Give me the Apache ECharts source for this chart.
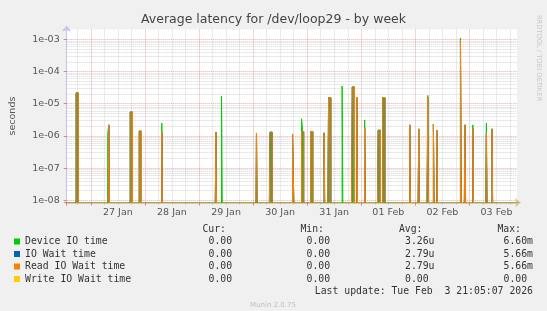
<!DOCTYPE html>
<html><head><meta charset="utf-8">
<script src="https://cdn.jsdelivr.net/npm/echarts@6/dist/echarts.min.js"></script>
<style>html,body{margin:0;padding:0;background:#f0f0f0}#c{width:547px;height:311px}</style>
</head><body><div id="c"></div>
<script>
// ---------- data ----------
const titleText = 'Average latency for /dev/loop29 - by week';
const seriesNames = ['Device IO time', 'IO Wait time', 'Read IO Wait time', 'Write IO Wait time'];
const seriesColors = ['#00cc00', '#0066b3', '#ff8000', '#ffcc00'];
// 30-minute slots counted from 27 Jan 00:00 that carry a non-zero value
const spikeSlots = [-13, -12, 15, 16, 35, 36, 43, 44, 63, 111, 116, 147, 159, 160, 179, 180, 187, 188, 195, 196, 207, 211, 212, 223, 232, 233, 236, 243, 255, 256, 259, 260, 283, 291, 299, 304, 307, 328, 332, 339, 351, 356];
const deviceIO = [2.15e-5, 2.15e-5, 1.2e-6, 2.2e-6, 5.5e-6, 5.5e-6, 1.4e-6, 1.4e-6, 2.5e-6, 1.3e-6, 1.7e-5, 1.23e-6, 1.3e-6, 1.3e-6, 1.15e-6, 1.5e-8, 3.4e-6, 1.35e-6, 1.37e-6, 1.37e-6, 1.24e-6, 1.55e-5, 1.55e-5, 3.55e-5, 3.3e-5, 3.3e-5, 1.6e-5, 3.1e-6, 1.5e-6, 1.5e-6, 1.55e-5, 1.55e-5, 2.2e-6, 1.65e-6, 1.8e-5, 2.3e-6, 1.5e-6, 1.1e-3, 2.2e-6, 2.2e-6, 2.5e-6, 1.65e-6];
const ioWait = [2.15e-5, 2.15e-5, 0, 2.2e-6, 5.5e-6, 5.5e-6, 1.4e-6, 1.4e-6, 1.3e-6, 1.3e-6, 0, 1.23e-6, 1.3e-6, 1.3e-6, 1.15e-6, 1.5e-8, 1.35e-6, 1.35e-6, 1.37e-6, 1.37e-6, 1.24e-6, 1.55e-5, 1.55e-5, 0, 3.3e-5, 3.3e-5, 1.6e-5, 1.8e-6, 1.5e-6, 1.5e-6, 1.55e-5, 1.55e-5, 2.2e-6, 1.65e-6, 1.58e-5, 2.3e-6, 1.5e-6, 9.5e-4, 2.2e-6, 1.65e-6, 1.2e-6, 1.65e-6];
const readIO = [2.15e-5, 2.15e-5, 0, 2.2e-6, 5.5e-6, 5.5e-6, 1.4e-6, 1.4e-6, 1.3e-6, 1.3e-6, 0, 1.23e-6, 1.3e-6, 1.3e-6, 1.15e-6, 1.5e-8, 1.35e-6, 1.35e-6, 1.37e-6, 1.37e-6, 1.24e-6, 1.55e-5, 1.55e-5, 0, 3.3e-5, 3.3e-5, 1.6e-5, 1.8e-6, 1.5e-6, 1.5e-6, 1.55e-5, 1.55e-5, 2.2e-6, 1.65e-6, 1.58e-5, 2.3e-6, 1.5e-6, 9.5e-4, 2.2e-6, 1.65e-6, 1.2e-6, 1.65e-6];
const writeIO = [0, 0, 0, 0, 0, 0, 0, 0, 0, 0, 0, 0, 0, 0, 0, 0, 0, 0, 0, 0, 0, 0, 0, 0, 0, 0, 0, 0, 0, 0, 0, 0, 0, 0, 0, 0, 0, 0, 0, 0, 0, 0];
const dayLabels = ['27 Jan', '28 Jan', '29 Jan', '30 Jan', '31 Jan', '01 Feb', '02 Feb', '03 Feb'];
const yTickLabels = ['1e-08', '1e-07', '1e-06', '1e-05', '1e-04', '1e-03'];
const statHeaders = ['Cur:', 'Min:', 'Avg:', 'Max:'];
const statCur = ['0.00 ', '0.00 ', '0.00 ', '0.00 '];
const statMin = ['0.00 ', '0.00 ', '0.00 ', '0.00 '];
const statAvg = ['3.26u', '2.79u', '2.79u', '0.00 '];
const statMax = ['6.60m', '5.66m', '5.66m', '0.00 '];
const lastUpdate = 'Last update: Tue Feb  3 21:05:07 2026';
const footer = 'Munin 2.0.75';
const watermark = 'RRDTOOL / TOBI OETIKER';

// ---------- layout ----------
const X_MIN = -0.4455, X_MAX = 7.8785;   // days from 27 Jan 00:00
const Y_MIN = 8.54e-9, Y_MAX = 2e-3;
const SLOTS_PER_DAY = 48;
const FLOOR = 1e-10; // zero on a log axis -> below the plot, clipped
const SLOT_FIRST = Math.floor(X_MIN * SLOTS_PER_DAY) - 1;
const SLOT_LAST = Math.ceil(X_MAX * SLOTS_PER_DAY) + 1;

function buildSeriesData(values) {
  const out = [];
  for (let s = SLOT_FIRST; s <= SLOT_LAST; s++) {
    const i = spikeSlots.indexOf(s);
    const v = i >= 0 ? values[i] : 0;
    out.push([s / SLOTS_PER_DAY, v > 0 ? v : FLOOR]);
  }
  return out;
}

// grid lines, placed through the axis scales
const majorLines = [], minorLines = [];
for (let k = -9; k <= -3; k++) {
  for (let m = 1; m <= 9; m++) {
    const v = m * Math.pow(10, k);
    if (v > Y_MIN && v < Y_MAX) (m === 1 ? majorLines : minorLines).push({ coords: [[X_MIN, v], [X_MAX, v]] });
  }
}
for (let q = Math.ceil(X_MIN * 4); q <= Math.floor(X_MAX * 4); q++) {
  (q % 4 === 0 ? majorLines : minorLines).push({ coords: [[q / 4, Y_MIN], [q / 4, Y_MAX]] });
}
function gridSeries(data, color) {
  return { type: 'lines', coordinateSystem: 'cartesian2d', xAxisIndex: 0, yAxisIndex: 0,
    data, silent: true, z: 1, polyline: false, symbol: ['none', 'none'],
    lineStyle: { color, width: 1, type: [1, 1], opacity: 1, curveness: 0 },
    emphasis: { disabled: true }, animation: false };
}

const seriesValues = [deviceIO, ioWait, readIO, writeIO];
const areaColors = ['rgba(90,200,90,0.55)', null, 'rgba(140,125,40,0.8)', null];
const series = [gridSeries(minorLines, 'rgba(165,165,165,0.45)'), gridSeries(majorLines, 'rgba(228,90,90,0.5)')];
seriesNames.forEach((name, i) => {
  const s = {
    name, type: 'line', step: 'end', data: buildSeriesData(seriesValues[i]),
    showSymbol: false, symbol: 'none', silent: true, clip: true, z: 2,
    color: seriesColors[i],
    lineStyle: { color: seriesColors[i], width: 1 },
    emphasis: { disabled: true }
  };
  if (areaColors[i]) s.areaStyle = { color: areaColors[i], opacity: 1 };
  series.push(s);
});

const mono = 'DejaVu Sans Mono';
const sans = 'DejaVu Sans';
const rowY = [241.5, 254, 266.5, 279];
const colRight = [238, 336, 434.5, 533];
const graphics = [];
statHeaders.forEach((h, c) => {
  graphics.push({ type: 'text', x: colRight[c] - 12, y: 229, silent: true,
    style: { text: h, fill: '#333', fontFamily: mono, fontSize: 9.8, align: 'right', verticalAlign: 'middle' } });
});
[statCur, statMin, statAvg, statMax].forEach((col, c) => {
  col.forEach((t, r) => {
    graphics.push({ type: 'text', x: colRight[c], y: rowY[r], silent: true,
      style: { text: t, fill: '#333', fontFamily: mono, fontSize: 9.8, align: 'right', verticalAlign: 'middle' } });
  });
});
graphics.push({ type: 'text', x: 533, y: 291.8, silent: true,
  style: { text: lastUpdate, fill: '#333', fontFamily: mono, fontSize: 9.8, align: 'right', verticalAlign: 'middle' } });
graphics.push({ type: 'text', x: 273, y: 304.7, silent: true,
  style: { text: footer, fill: '#bdbdbd', fontFamily: sans, fontSize: 7, align: 'center', verticalAlign: 'middle' } });
graphics.push({ type: 'text', x: 538.5, y: 58, rotation: -Math.PI / 2, silent: true,
  style: { text: watermark, fill: '#c8c8c8', fontFamily: sans, fontSize: 6.7, align: 'center', verticalAlign: 'middle' } });

const chart = echarts.init(document.getElementById('c'), null, { renderer: 'canvas' });
chart.setOption({
  animation: false,
  backgroundColor: '#f0f0f0',
  title: { text: titleText, left: 'center', top: 13, padding: 0,
    textStyle: { fontFamily: sans, fontSize: 12.5, fontWeight: 'normal', color: '#444', lineHeight: 14 } },
  legend: {
    orient: 'vertical', left: 14, top: 235.25, padding: 0, itemGap: 0,
    itemWidth: 6, itemHeight: 6, icon: 'rect', selectedMode: false,
    textStyle: { fontFamily: mono, fontSize: 9.8, color: '#333', lineHeight: 12.5 },
    data: seriesNames.map((n, i) => ({ name: n, itemStyle: { color: seriesColors[i] } }))
  },
  grid: { left: 66.7, right: 30, top: 29.6, bottom: 108.5, backgroundColor: '#ffffff', show: true, borderWidth: 0, outerBoundsMode: 'none' },
  xAxis: [
    { type: 'value', min: X_MIN, max: X_MAX, minInterval: 1, maxInterval: 1,
      axisLine: { show: true, onZero: false, lineStyle: { color: '#d6cc9c', width: 2 }, symbol: ['none', 'arrow'], symbolSize: [7, 6], symbolOffset: [0, 4] },
      axisTick: { show: true, length: 3, lineStyle: { color: '#e08080' } },
      minorTick: { show: true, splitNumber: 4, length: 2, lineStyle: { color: '#bbbbbb' } },
      axisLabel: { show: false }, splitLine: { show: false } },
    { type: 'value', position: 'bottom', min: X_MIN - 0.5, max: X_MAX - 0.5, minInterval: 1, maxInterval: 1,
      axisLine: { show: false, onZero: false }, axisTick: { show: false }, splitLine: { show: false },
      axisLabel: { show: true, interval: 0, margin: 5, fontFamily: sans, fontSize: 9.5, color: '#555',
        formatter: v => { const k = Math.round(v); return Math.abs(v - k) < 1e-6 ? (dayLabels[k] || '') : ''; } } }
  ],
  yAxis: {
    type: 'log', logBase: 10, min: Y_MIN, max: Y_MAX,
    name: 'seconds', nameLocation: 'middle', nameGap: 49,
    nameTextStyle: { fontFamily: sans, fontSize: 9.5, color: '#555' },
    axisLine: { show: true, onZero: false, lineStyle: { color: '#c4c4ee', width: 1 }, symbol: ['none', 'arrow'], symbolSize: [7, 6], symbolOffset: [0, 4] },
    axisTick: { show: true, length: 3, lineStyle: { color: '#e08080' } },
    axisLabel: { margin: 7, fontFamily: sans, fontSize: 9.5, color: '#555',
      formatter: v => { const e = Math.log10(v); const k = Math.round(e); return Math.abs(e - k) < 1e-6 ? (yTickLabels[k + 8] || '') : ''; } },
    splitLine: { show: false }
  },
  graphic: graphics,
  series
});
</script></body></html>
